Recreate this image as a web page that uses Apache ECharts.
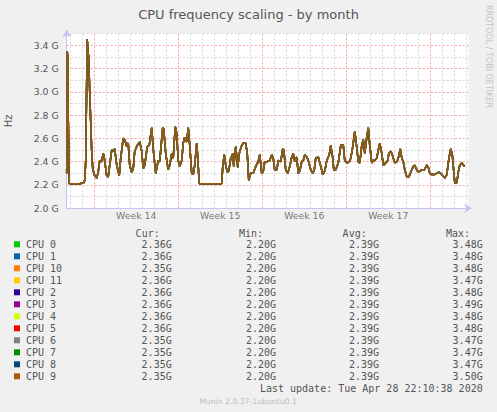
<!DOCTYPE html>
<html><head><meta charset="utf-8">
<script src="https://cdn.jsdelivr.net/npm/echarts@6/dist/echarts.min.js"></script>
<style>html,body{margin:0;padding:0;background:#f0f0f0;}#c{width:497px;height:412px;}</style>
</head><body><div id="c"></div>
<script>
// time in hours relative to the start of Week 14
const hours = [-55,-54,-53,-52,-50,-39,-29,-21,-19,-17,-14,-13,-11,-9,-5,-3,1,5,8,11,15,18,20,25,28,31,35,38,41,45,50,53,58,61,65,68,71,75,78,81,86,91,95,98,101,106,110,115,118,123,128,131,137,139,143,148,151,155,158,162,165,168,171,175,178,181,185,188,191,195,198,201,205,207,210,231,255,257,260,263,266,269,273,277,279,283,287,290,295,298,303,306,309,313,318,323,328,331,335,338,341,346,351,355,358,361,365,368,373,377,379,383,387,391,395,398,401,405,408,411,415,418,421,425,428,433,437,440,443,448,453,457,461,465,470,473,477,479,483,488,493,498,501,506,510,513,517,521,525,528,531,535,538,541,545,548,551,555,558,561,565,568,571,575,578,583,587,589,593,596,601,605,608,612,615,618,621,625,629,633,638,641,645,648,651,656,660,665,668,671,675,680,685,689,693,697,701,705,708,711,713,716,719,721,725,728,731,735,738,741];
const freqG = [2.30,3.35,3.30,2.80,2.21,2.21,2.21,2.22,2.24,2.40,3.45,3.38,3.29,3.00,2.49,2.34,2.28,2.26,2.31,2.41,2.40,2.47,2.44,2.28,2.27,2.37,2.50,2.49,2.51,2.37,2.28,2.43,2.60,2.59,2.53,2.56,2.37,2.31,2.34,2.49,2.54,2.57,2.49,2.34,2.37,2.53,2.54,2.69,2.51,2.30,2.41,2.40,2.69,2.68,2.47,2.33,2.37,2.47,2.43,2.70,2.64,2.41,2.36,2.41,2.56,2.61,2.57,2.69,2.54,2.30,2.29,2.37,2.56,2.44,2.21,2.21,2.21,2.36,2.46,2.37,2.31,2.32,2.43,2.47,2.36,2.53,2.35,2.47,2.54,2.56,2.56,2.47,2.24,2.30,2.30,2.36,2.40,2.46,2.30,2.32,2.40,2.40,2.41,2.46,2.43,2.33,2.33,2.41,2.40,2.51,2.50,2.33,2.30,2.36,2.44,2.47,2.40,2.44,2.30,2.32,2.40,2.41,2.46,2.44,2.41,2.33,2.30,2.33,2.43,2.44,2.36,2.29,2.32,2.41,2.46,2.54,2.43,2.33,2.33,2.39,2.54,2.54,2.41,2.39,2.40,2.43,2.53,2.66,2.52,2.40,2.39,2.54,2.59,2.47,2.61,2.69,2.54,2.39,2.41,2.41,2.43,2.50,2.56,2.47,2.37,2.39,2.41,2.47,2.49,2.46,2.39,2.40,2.43,2.51,2.43,2.40,2.33,2.27,2.27,2.31,2.36,2.37,2.33,2.31,2.32,2.33,2.33,2.37,2.35,2.30,2.29,2.29,2.30,2.31,2.30,2.28,2.26,2.29,2.39,2.47,2.51,2.46,2.31,2.22,2.22,2.31,2.37,2.39,2.37,2.36];
const cpuNames = ['CPU 0','CPU 1','CPU 10','CPU 11','CPU 2','CPU 3','CPU 4','CPU 5','CPU 6','CPU 7','CPU 8','CPU 9'];
const cpuColors = ['#00cc00','#0066b3','#ff8000','#ffcc00','#330099','#990099','#ccff00','#ff0000','#808080','#008f00','#00487d','#b35a00'];
const curVals = [2.36,2.36,2.35,2.36,2.36,2.36,2.36,2.36,2.35,2.35,2.35,2.35];
const minVals = [2.20,2.20,2.20,2.20,2.20,2.20,2.20,2.20,2.20,2.20,2.20,2.20];
const avgVals = [2.39,2.39,2.39,2.39,2.39,2.39,2.39,2.39,2.39,2.39,2.39,2.39];
const maxVals = [3.48,3.48,3.48,3.47,3.48,3.49,3.48,3.48,3.47,3.47,3.47,3.50];
const weekLabels = ['Week 14','Week 15','Week 16','Week 17'];
const yMin = 2.0, yMax = 3.5, yStep = 0.1;
const xMin = -55, xMax = 748, dayH = 24, weekH = 168;

const mono = 'DejaVu Sans Mono';
const sans = 'DejaVu Sans';
const txt = '#555555';

// vertical grid lines (daily minor, weekly major)
const vLines = [];
for (let h = Math.ceil(xMin / dayH) * dayH; h <= xMax; h += dayH) {
  const major = h % weekH === 0;
  vLines.push({xAxis: h, lineStyle: {color: major ? '#f2a0a0' : '#d6d6d6', type: [2, 2], width: 1}});
}
const weekCenters = weekLabels.map((w, i) => [weekH * i + weekH / 2, yMin]);

const series = [{
  type: 'line', data: [], z: 1, silent: true,
  markLine: {silent: true, z: 1, symbol: ['none', 'none'], label: {show: false}, animation: false, data: vLines}
}, {
  type: 'scatter', data: weekCenters, symbolSize: 0, clip: false, silent: true, z: 3,
  label: {show: true, position: 'bottom', distance: 3, fontFamily: sans, fontSize: 9.3, color: txt,
    formatter: p => weekLabels[p.dataIndex]}
}];
cpuNames.forEach((name, k) => {
  series.push({
    name: name, type: 'line', symbol: 'none', z: 10, animation: false,
    color: cpuColors[k],
    lineStyle: {width: 1.5, color: cpuColors[k], opacity: 0.85},
    data: hours.map((h, i) => [h, freqG[i]])
  });
});

const graphic = [
  {type: 'text', x: 248.5, y: 14, style: {text: 'CPU frequency scaling - by month', fontFamily: sans, fontSize: 13, fill: txt, textAlign: 'center', textVerticalAlign: 'middle'}},
  {type: 'text', x: 488, y: 5, rotation: -Math.PI / 2, style: {text: 'RRDTOOL / TOBI OETIKER', fontFamily: sans, fontSize: 8, fill: '#c4c4c4', textAlign: 'left', textVerticalAlign: 'middle'}},
  {type: 'text', x: 482.7, y: 388.3, style: {text: 'Last update: Tue Apr 28 22:10:38 2020', fontFamily: mono, fontSize: 10, fill: txt, textAlign: 'right', textVerticalAlign: 'middle'}},
  {type: 'text', x: 248, y: 401, style: {text: 'Munin 2.0.37-1ubuntu0.1', fontFamily: sans, fontSize: 7.7, fill: '#bdbdbd', textAlign: 'center', textVerticalAlign: 'middle'}}
];
const cols = [
  {head: 'Cur:', hx: 159.7, vx: 171.7, vals: curVals},
  {head: 'Min:', hx: 263, vx: 276, vals: minVals},
  {head: 'Avg:', hx: 366.7, vx: 379, vals: avgVals},
  {head: 'Max:', hx: 470, vx: 482.7, vals: maxVals}
];
cols.forEach(c => {
  graphic.push({type: 'text', x: c.hx, y: 233, style: {text: c.head, fontFamily: mono, fontSize: 10, fill: txt, textAlign: 'right', textVerticalAlign: 'middle'}});
  c.vals.forEach((v, i) => {
    graphic.push({type: 'text', x: c.vx, y: 244.3 + 12 * i, style: {text: v.toFixed(2) + 'G', fontFamily: mono, fontSize: 10, fill: txt, textAlign: 'right', textVerticalAlign: 'middle'}});
  });
});

const chart = echarts.init(document.getElementById('c'), null, {renderer: 'svg'});
chart.setOption({
  backgroundColor: '#f0f0f0',
  animation: false,
  grid: {left: 66.7, right: 28.7, top: 33.5, bottom: 203.7, show: true, backgroundColor: '#ffffff', borderWidth: 0, containLabel: false, outerBoundsMode: 'none'},
  xAxis: {
    type: 'value', min: xMin, max: xMax,
    axisLine: {show: true, onZero: false, lineStyle: {color: '#c4c4f4', width: 1}, symbol: ['none', 'arrow'], symbolSize: [7, 8], symbolOffset: [0, 4]},
    axisTick: {show: false}, axisLabel: {show: false}, splitLine: {show: false}
  },
  yAxis: {
    type: 'value', min: yMin, max: yMax, interval: yStep,
    name: 'Hz', nameLocation: 'middle', nameRotate: 90, nameGap: 53,
    nameTextStyle: {fontFamily: sans, fontSize: 10, color: txt},
    axisLine: {show: true, onZero: false, lineStyle: {color: '#c4c4f4', width: 1}, symbol: ['none', 'arrow'], symbolSize: [7, 8], symbolOffset: [0, 4]},
    axisTick: {show: false},
    axisLabel: {margin: 8, fontFamily: sans, fontSize: 9.3, color: txt, showMaxLabel: true,
      formatter: v => (Math.round(v * 10) % 2 === 0 ? v.toFixed(1) + ' G' : '')},
    splitLine: {show: true, lineStyle: {color: ['#f2a0a0', '#d6d6d6'], type: [2, 2], width: 1}}
  },
  legend: {
    data: cpuNames, orient: 'vertical', left: 14, top: 238.3, itemGap: 0, padding: 0,
    icon: 'rect', itemWidth: 6, itemHeight: 6, selectedMode: false,
    textStyle: {fontFamily: mono, fontSize: 10, color: txt, lineHeight: 12, padding: [0, 0, 0, 1]}
  },
  graphic: graphic,
  series: series
});
</script></body></html>
